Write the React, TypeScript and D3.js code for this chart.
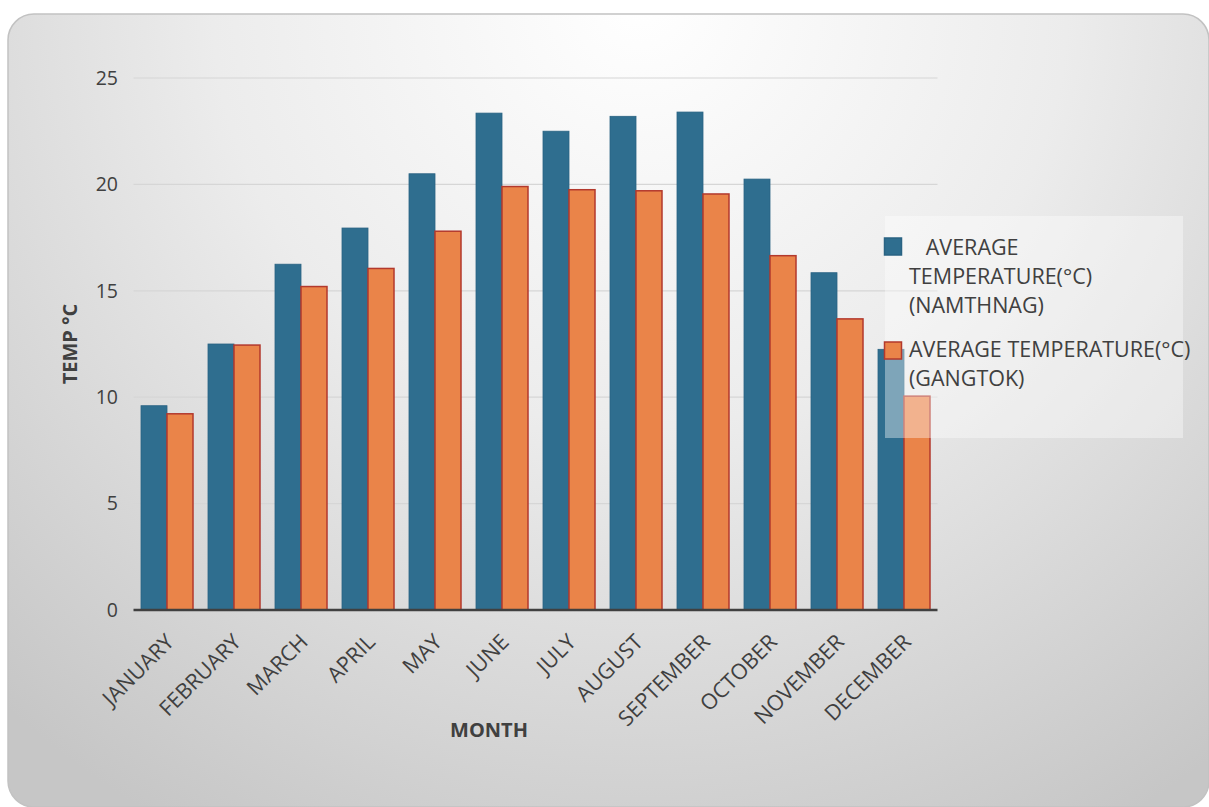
import React from "react";
import * as d3 from "d3";

const months = ["JANUARY", "FEBRUARY", "MARCH", "APRIL", "MAY", "JUNE", "JULY", "AUGUST", "SEPTEMBER", "OCTOBER", "NOVEMBER", "DECEMBER"];
const namthang = [9.6, 12.5, 16.25, 17.95, 20.5, 23.35, 22.5, 23.2, 23.4, 20.25, 15.85, 12.25];
const gangtok = [9.22, 12.45, 15.2, 16.05, 17.8, 19.9, 19.75, 19.7, 19.55, 16.65, 13.68, 10.05];
const yTicks = [0, 5, 10, 15, 20, 25];
const seriesNames = ["AVERAGE TEMPERATURE(°C) (NAMTHNAG)", "AVERAGE TEMPERATURE(°C) (GANGTOK)"];
const legendLines = [["   AVERAGE", "TEMPERATURE(°C)", "(NAMTHNAG)"], ["AVERAGE TEMPERATURE(°C)", "(GANGTOK)"]];

const W = 1209, H = 807;
const plot = { left: 133.5, right: 937.5, top: 78, bottom: 610 };
const FONT = "'Open Sans', sans-serif";
const TXT = "#404040";
const BLUE = "#2f6e8f";
const ORANGE = "#ea8449";
const ORANGE_STROKE = "#b3392d";

export default function App() {
  const x = d3.scaleBand<string>().domain(months).range([plot.left, plot.right]).paddingInner(15 / 67).paddingOuter(7.5 / 67);
  const y = d3.scaleLinear().domain([0, 25]).range([plot.bottom, plot.top]);
  const bw = x.bandwidth() / 2;
  const series = [namthang, gangtok];

  return (
    <svg width={W} height={H} style={{ position: "absolute", left: 0, top: 0 }} fontFamily={FONT}>
      <defs>
        <radialGradient id="bg" gradientUnits="userSpaceOnUse" cx={640} cy={0} r={950}>
          <stop offset="0" stopColor="#ffffff" />
          <stop offset="0.45" stopColor="#ececec" />
          <stop offset="1" stopColor="#c6c6c6" />
        </radialGradient>
      </defs>
      <rect x={8} y={14} width={W - 8} height={H - 14} rx={26} ry={26} fill="url(#bg)" stroke="#c2c2c2" strokeWidth={1.5} />
      {yTicks.map((t) => (
        <g key={t}>
          {t > 0 && <line x1={plot.left} x2={plot.right} y1={y(t)} y2={y(t)} stroke="#d6d6d6" strokeWidth={1.2} />}
          <text x={118} y={y(t)} dy="0.35em" textAnchor="end" fontSize={19.5} fill={TXT}>{t}</text>
        </g>
      ))}
      {months.map((m, i) => (
        <g key={m}>
          {series.map((s, k) => (
            <rect key={k}
              x={(x(m) as number) + k * bw}
              y={y(s[i])}
              width={bw}
              height={y(0) - y(s[i])}
              fill={k === 0 ? BLUE : ORANGE}
              stroke={k === 0 ? "#2a6383" : ORANGE_STROKE}
              strokeWidth={k === 0 ? 0.8 : 1.5}
            />
          ))}
        </g>
      ))}
      <line x1={plot.left} x2={plot.right} y1={y(0)} y2={y(0)} stroke="#404040" strokeWidth={2.5} />
      {months.map((m) => {
        const cx = (x(m) as number) + x.bandwidth() / 2 + 3;
        const cy = plot.bottom + 28;
        return (
          <text key={m} transform={`translate(${cx},${cy}) rotate(-45)`} textAnchor="end" dy="0.35em" fontSize={21.5} fill={TXT}>{m}</text>
        );
      })}
      <text transform={`translate(77,${(plot.top + plot.bottom) / 2}) rotate(-90)`} textAnchor="middle" fontSize={20} fontWeight="bold" fill={TXT}>TEMP °C</text>
      <text x={489} y={737} textAnchor="middle" fontSize={20} fontWeight="bold" fill={TXT}>MONTH</text>
      <g>
        <rect x={885} y={216} width={298} height={222} fill="#ffffff" fillOpacity={0.38} />
        {seriesNames.map((name, k) => {
          const top = k === 0 ? 238 : 342;
          const base = k === 0 ? 255 : 357;
          return (
            <g key={name}>
              <rect x={884.5} y={top} width={17} height={17} fill={k === 0 ? BLUE : ORANGE} stroke={k === 0 ? "#2a6383" : ORANGE_STROKE} strokeWidth={1.5} />
              <text fontSize={21.5} fill={TXT} style={{ whiteSpace: "pre" }}>
                {legendLines[k].map((ln, j) => (
                  <tspan key={j} x={909} y={base + j * 29} xmlSpace="preserve">{ln}</tspan>
                ))}
              </text>
            </g>
          );
        })}
      </g>
    </svg>
  );
}
